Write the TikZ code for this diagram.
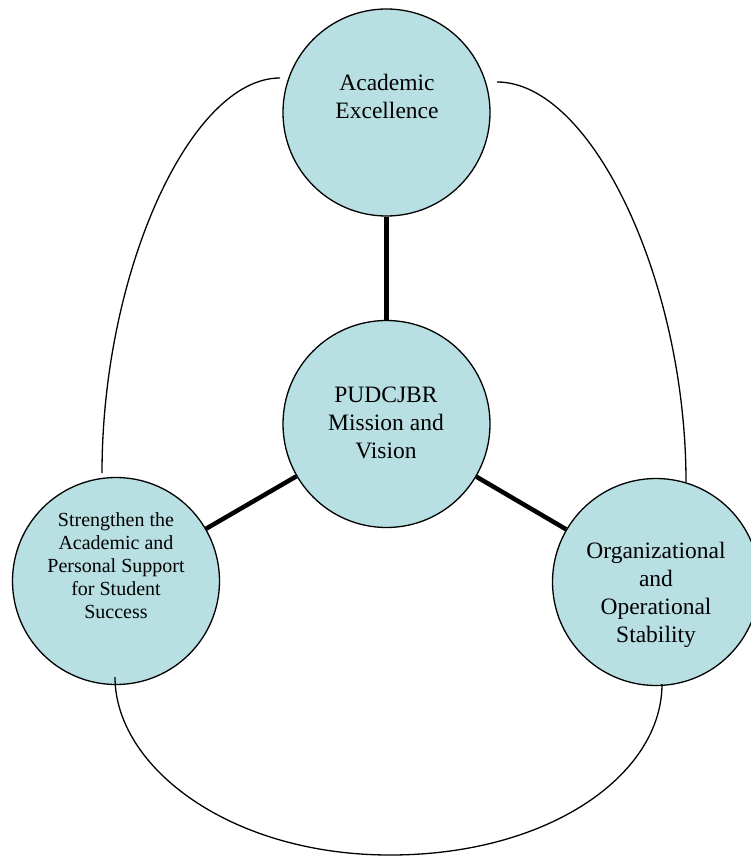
\documentclass[tikz,border=0pt]{standalone}
\usepackage{fontspec}
\setmainfont{Liberation Serif}
\definecolor{circfill}{HTML}{B8DFE2}
\begin{document}
\begin{tikzpicture}[x=1pt,y=-1pt,
  bubble/.style={circle,draw=black,line width=1.3pt,fill=circfill,minimum size=207pt,inner sep=0pt},
  spoke/.style={line width=4.5pt},
  loopline/.style={line width=1.3pt},
  bigtext/.style={align=center,inner sep=0pt,font=\fontsize{23.5}{28}\selectfont},
  smalltext/.style={align=center,inner sep=0pt,font=\fontsize{20}{23}\selectfont}]
\useasboundingbox (0,0) rectangle (751,856);
% circles
\node[bubble] (top) at (386.5,112.5) {};
\node[bubble] (mid) at (386.5,424) {};
\node[bubble] (left) at (116,581) {};
\node[bubble] (right) at (656,582) {};
% spokes
\draw[spoke] (top) -- (mid);
\draw[spoke] (mid) -- (left);
\draw[spoke] (mid) -- (right);
% outer loop lines
\coordinate (tl) at (280,78);
\coordinate (lt) at (102,473);
\coordinate (tr) at (497,82);
\coordinate (rt) at (686,482);
\coordinate (lb) at (115,677);
\coordinate (bm) at (390,855);
\coordinate (rb) at (662,684);
\draw[loopline] (tl) .. controls (190,78) and (102,273) .. (lt);
\draw[loopline] (tr) .. controls (592,82) and (686,282) .. (rt);
\draw[loopline] (lb) .. controls (115,767) and (230,855) .. (bm)
  .. controls (550,855) and (662,774) .. (rb);
% texts
\node[bigtext] (toptext) at (387,96.5) {Academic\\Excellence};
\node[bigtext] (midtext) at (386,423) {PUDCJBR\\Mission and\\Vision};
\node[bigtext] (righttext) at (656,594.5) {Organizational\\and\\Operational\\Stability};
\node[smalltext] (lefttext) at (116,566) {Strengthen the\\Academic and\\Personal Support\\for Student\\Success};
\end{tikzpicture}
\end{document}
